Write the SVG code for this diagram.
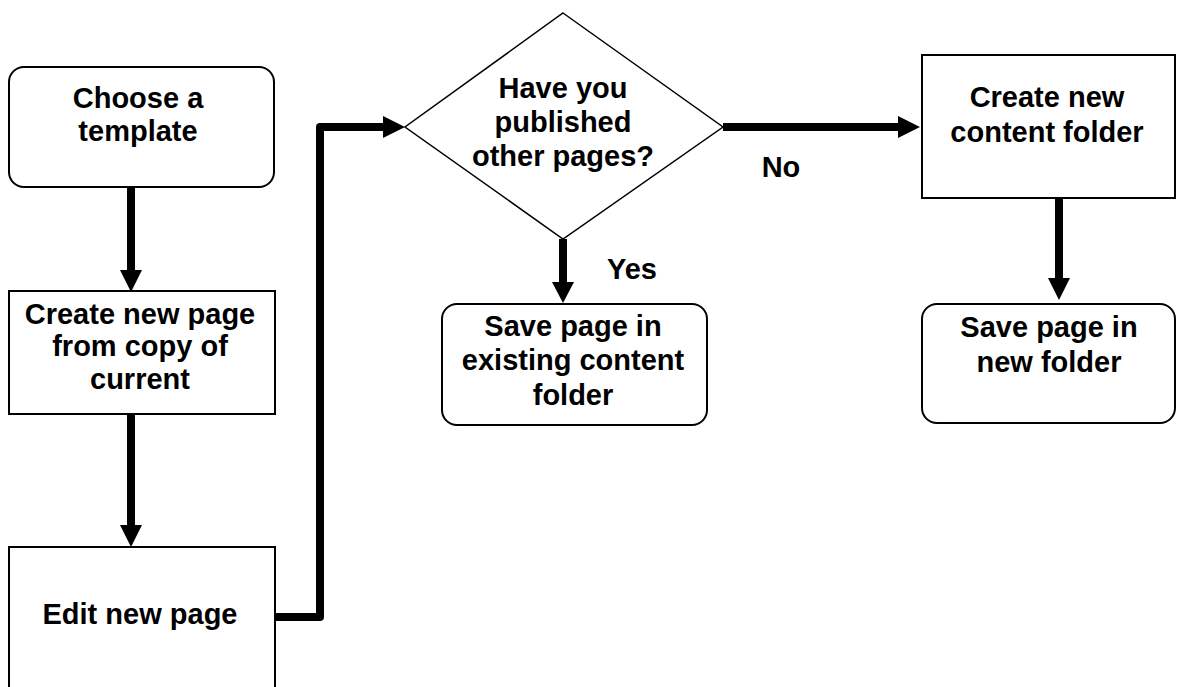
<svg xmlns="http://www.w3.org/2000/svg" width="1177" height="687" viewBox="0 0 1177 687">
<style>
.box{fill:#fff;stroke:#000;stroke-width:2}
.t{font-family:"Liberation Sans",Arial,sans-serif;font-weight:bold;font-size:29px;fill:#000;text-anchor:middle}
.c{fill:none;stroke:#000;stroke-width:8}
.h{fill:#000;stroke:none}
</style>
<rect width="1177" height="687" fill="#fff"/>
<g id="connectors">
<line class="c" x1="131" y1="187" x2="131" y2="272"/>
<polygon class="h" points="120,270 142,270 131,292"/>
<line class="c" x1="131" y1="414" x2="131" y2="527"/>
<polygon class="h" points="120,525 142,525 131,547"/>
<path class="c" d="M272,617 L320,617 L320,127 L385,127" stroke-linecap="round" stroke-linejoin="round"/>
<polygon class="h" points="383,116 383,138 405,127"/>
<line class="c" x1="563" y1="239" x2="563" y2="284"/>
<polygon class="h" points="552,282 574,282 563,303"/>
<line class="c" x1="723" y1="127" x2="900" y2="127"/>
<polygon class="h" points="898,116 898,138 920,127"/>
<line class="c" x1="1059" y1="198" x2="1059" y2="280"/>
<polygon class="h" points="1048,278 1070,278 1059,300"/>
<text class="t" x="632" y="279">Yes</text>
<text class="t" x="781" y="177">No</text>
</g>
<g id="choose">
<rect class="box" x="9" y="67" width="265" height="120" rx="15"/>
<text class="t" x="138" y="108">Choose a</text>
<text class="t" x="138" y="141">template</text>
</g>
<g id="create-page">
<rect class="box" x="9" y="291" width="266" height="123"/>
<text class="t" x="140" y="324">Create new page</text>
<text class="t" x="140" y="356">from copy of</text>
<text class="t" x="140" y="389">current</text>
</g>
<g id="edit">
<rect class="box" x="9" y="547" width="266" height="160"/>
<text class="t" x="140" y="624">Edit new page</text>
</g>
<g id="decision">
<polygon class="box" points="563,13 723,127 563,239 405,127" style="stroke-width:1.5"/>
<text class="t" x="563" y="98">Have you</text>
<text class="t" x="563" y="132">published</text>
<text class="t" x="563" y="166">other pages?</text>
</g>
<g id="save-existing">
<rect class="box" x="442" y="304" width="265" height="121" rx="15"/>
<text class="t" x="573" y="336">Save page in</text>
<text class="t" x="573" y="370">existing content</text>
<text class="t" x="573" y="405">folder</text>
</g>
<g id="create-folder">
<rect class="box" x="922" y="55" width="253" height="143"/>
<text class="t" x="1047" y="107">Create new</text>
<text class="t" x="1047" y="142">content folder</text>
</g>
<g id="save-new">
<rect class="box" x="922" y="304" width="253" height="119" rx="15"/>
<text class="t" x="1049" y="337">Save page in</text>
<text class="t" x="1049" y="372">new folder</text>
</g>
</svg>
